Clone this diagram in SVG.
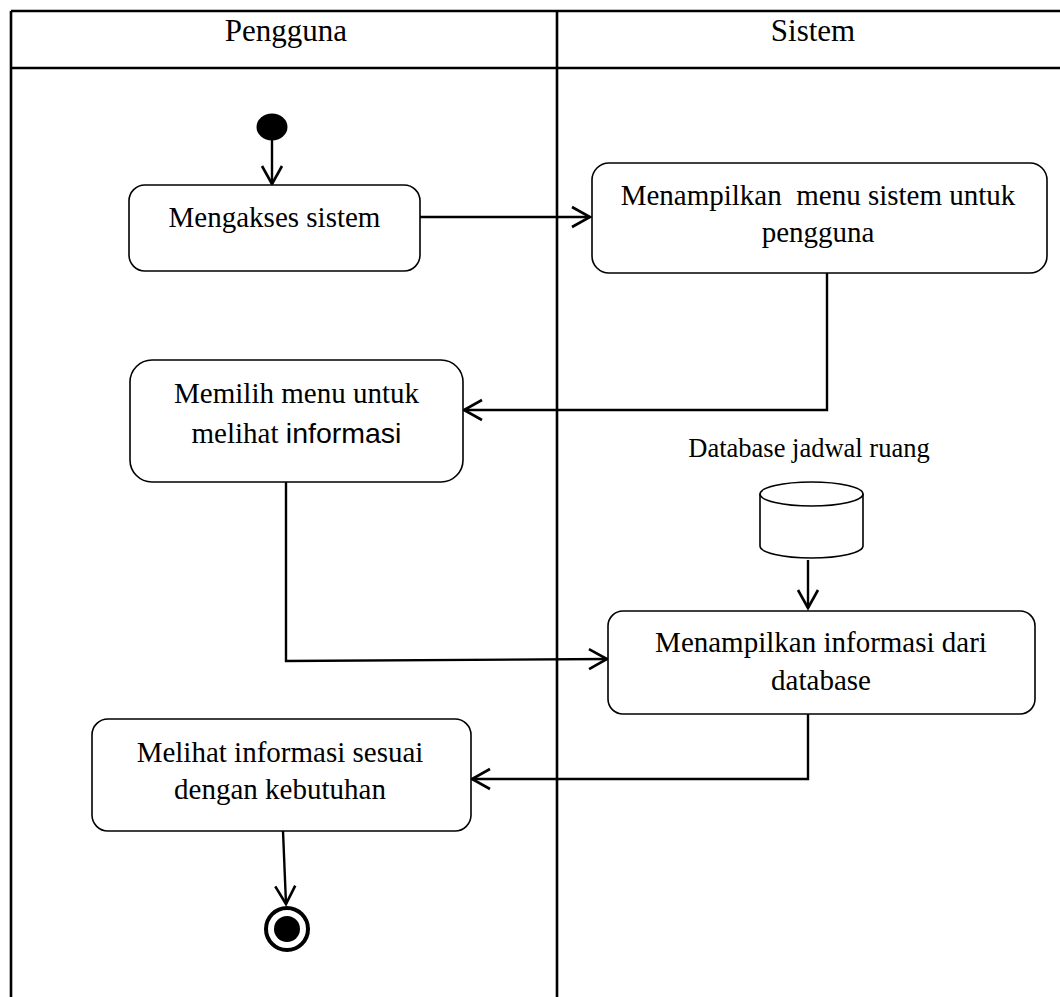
<svg xmlns="http://www.w3.org/2000/svg" width="1060" height="997" viewBox="0 0 1060 997">
  <style>
    .lane { stroke: #000; stroke-width: 2.6; fill: none; }
    .box { fill: #fff; stroke: #000; stroke-width: 1.6; }
    .flow { stroke: #000; stroke-width: 2.4; fill: none; }
    .label { font-family: "Liberation Serif", "Times New Roman", serif; font-size: 29px; fill: #000; text-anchor: middle; white-space: pre; }
    .head { font-size: 31px; }
    .small { font-size: 26.5px; }
    .sans { font-family: "Liberation Sans", Arial, sans-serif; font-size: 28.5px; }
  </style>
  <defs>
    <marker id="open-arrow" markerUnits="userSpaceOnUse" markerWidth="30" markerHeight="30" viewBox="-22 -15 26 30" refX="0" refY="0" orient="auto">
      <path d="M -18 -10 L 0 0 L -18 10" fill="none" stroke="#000" stroke-width="2.6"/>
    </marker>
  </defs>

  <rect width="1060" height="997" fill="#fff"/>

  <!-- swimlane frame -->
  <g id="swimlanes">
    <line class="lane" x1="11" y1="11" x2="1060" y2="11"/>
    <line class="lane" x1="11" y1="68" x2="1060" y2="68"/>
    <line class="lane" x1="11" y1="11" x2="11" y2="997"/>
    <line class="lane" x1="557" y1="11" x2="557" y2="997"/>
    <text class="label head" x="286" y="41">Pengguna</text>
    <text class="label head" x="813" y="41">Sistem</text>
  </g>

  <!-- connectors -->
  <g id="connectors">
    <line class="flow" x1="272" y1="140" x2="272" y2="184" marker-end="url(#open-arrow)"/>
    <line class="flow" x1="420" y1="217" x2="590" y2="217" marker-end="url(#open-arrow)"/>
    <polyline class="flow" points="827,273 827,410 464,410" marker-end="url(#open-arrow)"/>
    <polyline class="flow" points="286,482 286,661 607,659" marker-end="url(#open-arrow)"/>
    <line class="flow" x1="808" y1="560" x2="808" y2="608" marker-end="url(#open-arrow)"/>
    <polyline class="flow" points="808,714 808,779 472,779" marker-end="url(#open-arrow)"/>
    <line class="flow" x1="283" y1="831" x2="286" y2="904" marker-end="url(#open-arrow)"/>
  </g>

  <g id="start">
    <ellipse cx="272" cy="127" rx="15.5" ry="13.5" fill="#000"/>
  </g>

  <g id="mengakses-sistem">
    <rect class="box" x="129" y="185" width="291" height="86" rx="16"/>
    <text class="label" x="274.5" y="227">Mengakses sistem</text>
  </g>

  <g id="menampilkan-menu">
    <rect class="box" x="592" y="163" width="455" height="110" rx="17"/>
    <text class="label" x="818" y="205">Menampilkan  menu sistem untuk</text>
    <text class="label" x="818" y="242">pengguna</text>
  </g>

  <g id="memilih-menu">
    <rect class="box" x="130" y="360" width="333" height="122" rx="22"/>
    <text class="label" x="296.5" y="403">Memilih menu untuk</text>
    <text class="label" x="296.5" y="443">melihat <tspan class="sans">informasi</tspan></text>
  </g>

  <g id="database-jadwal-ruang">
    <text class="label small" x="809" y="457">Database jadwal ruang</text>
    <path class="box" d="M 760 494 L 760 546 A 51.5 12 0 0 0 863 546 L 863 494 A 51.5 12 0 0 0 760 494 Z"/>
    <path d="M 760 494 A 51.5 12 0 0 0 863 494" fill="none" stroke="#000" stroke-width="1.6"/>
  </g>

  <g id="menampilkan-informasi">
    <rect class="box" x="608" y="611" width="427" height="103" rx="15"/>
    <text class="label" x="821" y="652">Menampilkan informasi dari</text>
    <text class="label" x="821" y="690">database</text>
  </g>

  <g id="melihat-informasi">
    <rect class="box" x="92" y="719" width="379" height="112" rx="16"/>
    <text class="label" x="280" y="762">Melihat informasi sesuai</text>
    <text class="label" x="280" y="799">dengan kebutuhan</text>
  </g>

  <g id="end">
    <circle cx="287" cy="929" r="21" fill="#fff" stroke="#000" stroke-width="4"/>
    <circle cx="287" cy="929" r="13" fill="#000"/>
  </g>
</svg>
